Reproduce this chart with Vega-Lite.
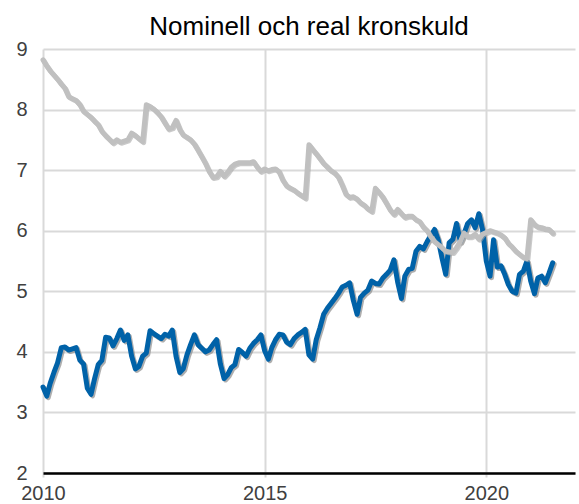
{
  "$schema": "https://vega.github.io/schema/vega-lite/v6.json",
  "autosize": "none",
  "width": 532,
  "height": 424,
  "padding": {"left": 43, "top": 49, "right": 4, "bottom": 31},
  "background": "white",
  "config": {
    "font": "Liberation Sans",
    "view": {"stroke": null},
    "axis": {"gridColor": "#d9d9d9", "gridWidth": 2, "labelFont": "Liberation Sans", "labelFontSize": 20, "labelColor": "#404040", "title": null}
  },
  "title": {"text": "Nominell och real kronskuld", "fontSize": 26, "fontWeight": "normal", "color": "#000000", "anchor": "middle", "offset": -1},
  "data": {"name": "kronskuld"},
  "datasets": {
    "kronskuld": [
      {"date": "2010-01-01", "nominell": 3.42, "real": 8.82},
      {"date": "2010-02-01", "nominell": 3.27, "real": 8.72},
      {"date": "2010-03-01", "nominell": 3.48, "real": 8.64},
      {"date": "2010-04-01", "nominell": 3.66, "real": 8.57},
      {"date": "2010-05-01", "nominell": 3.82, "real": 8.50},
      {"date": "2010-06-01", "nominell": 4.07, "real": 8.42},
      {"date": "2010-07-01", "nominell": 4.08, "real": 8.35},
      {"date": "2010-08-01", "nominell": 4.03, "real": 8.21},
      {"date": "2010-09-01", "nominell": 4.05, "real": 8.18},
      {"date": "2010-10-01", "nominell": 4.07, "real": 8.15},
      {"date": "2010-11-01", "nominell": 3.86, "real": 8.08},
      {"date": "2010-12-01", "nominell": 3.80, "real": 7.97},
      {"date": "2011-01-01", "nominell": 3.40, "real": 7.92},
      {"date": "2011-02-01", "nominell": 3.30, "real": 7.87},
      {"date": "2011-03-01", "nominell": 3.55, "real": 7.81},
      {"date": "2011-04-01", "nominell": 3.79, "real": 7.75},
      {"date": "2011-05-01", "nominell": 3.86, "real": 7.64},
      {"date": "2011-06-01", "nominell": 4.24, "real": 7.57},
      {"date": "2011-07-01", "nominell": 4.23, "real": 7.51},
      {"date": "2011-08-01", "nominell": 4.10, "real": 7.45},
      {"date": "2011-09-01", "nominell": 4.22, "real": 7.50},
      {"date": "2011-10-01", "nominell": 4.36, "real": 7.46},
      {"date": "2011-11-01", "nominell": 4.19, "real": 7.48},
      {"date": "2011-12-01", "nominell": 4.28, "real": 7.50},
      {"date": "2012-01-01", "nominell": 3.93, "real": 7.61},
      {"date": "2012-02-01", "nominell": 3.72, "real": 7.57},
      {"date": "2012-03-01", "nominell": 3.76, "real": 7.52},
      {"date": "2012-04-01", "nominell": 3.93, "real": 7.47},
      {"date": "2012-05-01", "nominell": 3.98, "real": 8.08},
      {"date": "2012-06-01", "nominell": 4.35, "real": 8.05},
      {"date": "2012-07-01", "nominell": 4.30, "real": 8.01},
      {"date": "2012-08-01", "nominell": 4.26, "real": 7.95},
      {"date": "2012-09-01", "nominell": 4.22, "real": 7.88},
      {"date": "2012-10-01", "nominell": 4.29, "real": 7.78},
      {"date": "2012-11-01", "nominell": 4.26, "real": 7.68},
      {"date": "2012-12-01", "nominell": 4.36, "real": 7.70},
      {"date": "2013-01-01", "nominell": 3.93, "real": 7.82},
      {"date": "2013-02-01", "nominell": 3.66, "real": 7.67},
      {"date": "2013-03-01", "nominell": 3.72, "real": 7.58},
      {"date": "2013-04-01", "nominell": 3.95, "real": 7.54},
      {"date": "2013-05-01", "nominell": 4.12, "real": 7.50},
      {"date": "2013-06-01", "nominell": 4.28, "real": 7.43},
      {"date": "2013-07-01", "nominell": 4.12, "real": 7.33},
      {"date": "2013-08-01", "nominell": 4.06, "real": 7.22},
      {"date": "2013-09-01", "nominell": 4.00, "real": 7.11},
      {"date": "2013-10-01", "nominell": 4.03, "real": 6.98},
      {"date": "2013-11-01", "nominell": 4.12, "real": 6.88},
      {"date": "2013-12-01", "nominell": 4.20, "real": 6.89},
      {"date": "2014-01-01", "nominell": 3.80, "real": 6.98},
      {"date": "2014-02-01", "nominell": 3.56, "real": 6.90},
      {"date": "2014-03-01", "nominell": 3.62, "real": 6.96},
      {"date": "2014-04-01", "nominell": 3.74, "real": 7.05},
      {"date": "2014-05-01", "nominell": 3.79, "real": 7.10},
      {"date": "2014-06-01", "nominell": 4.04, "real": 7.12},
      {"date": "2014-07-01", "nominell": 3.99, "real": 7.12},
      {"date": "2014-08-01", "nominell": 3.93, "real": 7.12},
      {"date": "2014-09-01", "nominell": 4.06, "real": 7.12},
      {"date": "2014-10-01", "nominell": 4.14, "real": 7.14},
      {"date": "2014-11-01", "nominell": 4.20, "real": 7.05},
      {"date": "2014-12-01", "nominell": 4.28, "real": 6.98},
      {"date": "2015-01-01", "nominell": 4.02, "real": 7.02},
      {"date": "2015-02-01", "nominell": 3.88, "real": 6.99},
      {"date": "2015-03-01", "nominell": 4.07, "real": 7.01},
      {"date": "2015-04-01", "nominell": 4.20, "real": 7.02},
      {"date": "2015-05-01", "nominell": 4.29, "real": 6.97},
      {"date": "2015-06-01", "nominell": 4.28, "real": 6.83},
      {"date": "2015-07-01", "nominell": 4.16, "real": 6.74},
      {"date": "2015-08-01", "nominell": 4.12, "real": 6.70},
      {"date": "2015-09-01", "nominell": 4.22, "real": 6.67},
      {"date": "2015-10-01", "nominell": 4.28, "real": 6.62},
      {"date": "2015-11-01", "nominell": 4.32, "real": 6.58},
      {"date": "2015-12-01", "nominell": 4.37, "real": 6.54},
      {"date": "2016-01-01", "nominell": 3.95, "real": 7.42},
      {"date": "2016-02-01", "nominell": 3.88, "real": 7.34},
      {"date": "2016-03-01", "nominell": 4.20, "real": 7.27},
      {"date": "2016-04-01", "nominell": 4.40, "real": 7.19},
      {"date": "2016-05-01", "nominell": 4.62, "real": 7.11},
      {"date": "2016-06-01", "nominell": 4.72, "real": 7.05},
      {"date": "2016-07-01", "nominell": 4.80, "real": 6.99},
      {"date": "2016-08-01", "nominell": 4.88, "real": 6.95},
      {"date": "2016-09-01", "nominell": 4.97, "real": 6.88},
      {"date": "2016-10-01", "nominell": 5.07, "real": 6.75},
      {"date": "2016-11-01", "nominell": 5.10, "real": 6.60},
      {"date": "2016-12-01", "nominell": 5.14, "real": 6.55},
      {"date": "2017-01-01", "nominell": 4.85, "real": 6.56},
      {"date": "2017-02-01", "nominell": 4.62, "real": 6.52},
      {"date": "2017-03-01", "nominell": 4.90, "real": 6.46},
      {"date": "2017-04-01", "nominell": 4.97, "real": 6.42},
      {"date": "2017-05-01", "nominell": 5.02, "real": 6.36},
      {"date": "2017-06-01", "nominell": 5.17, "real": 6.32},
      {"date": "2017-07-01", "nominell": 5.13, "real": 6.70},
      {"date": "2017-08-01", "nominell": 5.12, "real": 6.63},
      {"date": "2017-09-01", "nominell": 5.22, "real": 6.55},
      {"date": "2017-10-01", "nominell": 5.28, "real": 6.45},
      {"date": "2017-11-01", "nominell": 5.35, "real": 6.34},
      {"date": "2017-12-01", "nominell": 5.52, "real": 6.27},
      {"date": "2018-01-01", "nominell": 5.15, "real": 6.35},
      {"date": "2018-02-01", "nominell": 4.88, "real": 6.28},
      {"date": "2018-03-01", "nominell": 5.25, "real": 6.22},
      {"date": "2018-04-01", "nominell": 5.36, "real": 6.24},
      {"date": "2018-05-01", "nominell": 5.38, "real": 6.24},
      {"date": "2018-06-01", "nominell": 5.66, "real": 6.18},
      {"date": "2018-07-01", "nominell": 5.74, "real": 6.15},
      {"date": "2018-08-01", "nominell": 5.70, "real": 6.06},
      {"date": "2018-09-01", "nominell": 5.82, "real": 6.00},
      {"date": "2018-10-01", "nominell": 5.92, "real": 5.90},
      {"date": "2018-11-01", "nominell": 6.02, "real": 5.82},
      {"date": "2018-12-01", "nominell": 5.85, "real": 5.77},
      {"date": "2019-01-01", "nominell": 5.55, "real": 5.72},
      {"date": "2019-02-01", "nominell": 5.28, "real": 5.66},
      {"date": "2019-03-01", "nominell": 5.80, "real": 5.65},
      {"date": "2019-04-01", "nominell": 5.86, "real": 5.64},
      {"date": "2019-05-01", "nominell": 6.12, "real": 5.72},
      {"date": "2019-06-01", "nominell": 5.82, "real": 5.82},
      {"date": "2019-07-01", "nominell": 5.95, "real": 5.96},
      {"date": "2019-08-01", "nominell": 6.12, "real": 5.90},
      {"date": "2019-09-01", "nominell": 6.18, "real": 5.90},
      {"date": "2019-10-01", "nominell": 6.05, "real": 5.94},
      {"date": "2019-11-01", "nominell": 6.28, "real": 5.86},
      {"date": "2019-12-01", "nominell": 6.02, "real": 5.94},
      {"date": "2020-01-01", "nominell": 5.50, "real": 5.97},
      {"date": "2020-02-01", "nominell": 5.25, "real": 6.00},
      {"date": "2020-03-01", "nominell": 5.85, "real": 5.98},
      {"date": "2020-04-01", "nominell": 5.40, "real": 5.96},
      {"date": "2020-05-01", "nominell": 5.42, "real": 5.93},
      {"date": "2020-06-01", "nominell": 5.28, "real": 5.88},
      {"date": "2020-07-01", "nominell": 5.11, "real": 5.79},
      {"date": "2020-08-01", "nominell": 5.00, "real": 5.73},
      {"date": "2020-09-01", "nominell": 4.97, "real": 5.66},
      {"date": "2020-10-01", "nominell": 5.28, "real": 5.61},
      {"date": "2020-11-01", "nominell": 5.33, "real": 5.56},
      {"date": "2020-12-01", "nominell": 5.50, "real": 5.54},
      {"date": "2021-01-01", "nominell": 5.17, "real": 6.18},
      {"date": "2021-02-01", "nominell": 4.96, "real": 6.10},
      {"date": "2021-03-01", "nominell": 5.22, "real": 6.06},
      {"date": "2021-04-01", "nominell": 5.25, "real": 6.05},
      {"date": "2021-05-01", "nominell": 5.14, "real": 6.03},
      {"date": "2021-06-01", "nominell": 5.30, "real": 6.02},
      {"date": "2021-07-01", "nominell": 5.47, "real": 5.96}
    ]
  },
  "transform": [{"fold": ["nominell", "real"], "as": ["serie", "varde"]}],
  "encoding": {
    "x": {
      "field": "date", "type": "temporal",
      "scale": {"type": "utc", "domain": [{"year": 2010, "month": 1, "date": 1, "utc": true}, {"year": 2022, "month": 1, "date": 1, "utc": true}]},
      "axis": {
        "values": [{"year": 2010, "month": 1, "date": 1, "utc": true}, {"year": 2015, "month": 1, "date": 1, "utc": true}, {"year": 2020, "month": 1, "date": 1, "utc": true}],
        "labelExpr": "utcFormat(datum.value, '%Y')",
        "grid": true, "domain": true, "domainColor": "#000000", "domainWidth": 2.5,
        "ticks": true, "tickColor": "#d9d9d9", "tickSize": 4, "tickWidth": 2,
        "labelPadding": 6, "labelFlush": false
      }
    },
    "y": {
      "field": "varde", "type": "quantitative",
      "scale": {"domain": [2, 9], "nice": false, "zero": false},
      "axis": {"values": [2, 3, 4, 5, 6, 7, 8, 9], "grid": true, "domain": false, "ticks": false, "labelPadding": 16}
    }
  },
  "layer": [
    {
      "transform": [{"filter": "datum.serie === 'nominell'"}],
      "mark": {"type": "line", "color": "#8c8c8c", "opacity": 0.7, "strokeWidth": 5, "xOffset": 1.5, "yOffset": 1.5, "strokeJoin": "round", "strokeCap": "round"}
    },
    {
      "transform": [{"filter": "datum.serie === 'nominell'"}],
      "mark": {"type": "line", "color": "#0062a8", "strokeWidth": 5, "strokeJoin": "round", "strokeCap": "round"}
    },
    {
      "transform": [{"filter": "datum.serie === 'real'"}],
      "mark": {"type": "line", "color": "#a6a6a6", "opacity": 0.6, "strokeWidth": 5, "xOffset": 1, "yOffset": 1, "strokeJoin": "round", "strokeCap": "round"}
    },
    {
      "transform": [{"filter": "datum.serie === 'real'"}],
      "mark": {"type": "line", "color": "#c0c0c0", "strokeWidth": 5, "strokeJoin": "round", "strokeCap": "round"}
    }
  ]
}
